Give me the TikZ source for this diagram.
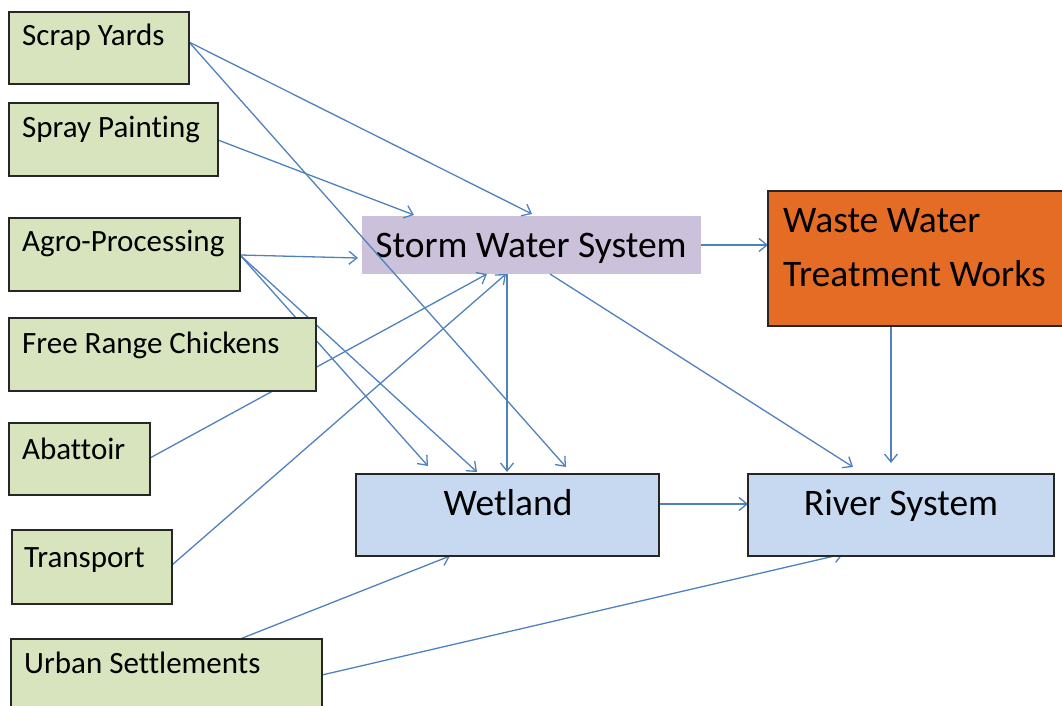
\documentclass[tikz,border=0pt]{standalone}
\usepackage{fontspec}
\setmainfont{Carlito}[Ligatures=NoCommon]
\usetikzlibrary{arrows.meta,backgrounds}

\definecolor{srcgreen}{HTML}{D7E4BD}
\definecolor{stormlilac}{HTML}{CCC1DA}
\definecolor{plantorange}{HTML}{E46C24}
\definecolor{waterblue}{HTML}{C6D9F1}
\definecolor{flowblue}{HTML}{4F81BD}
\definecolor{edgegray}{HTML}{262626}

\tikzset{
  box/.style={rectangle, draw=edgegray, line width=1.5pt, anchor=north west,
    inner sep=0pt, outer sep=0pt},
  source/.style={box, fill=srcgreen, minimum height=73pt},
  sink/.style={box, fill=waterblue, minimum height=82pt},
  srctext/.style={anchor=base west, inner sep=0pt, font=\fontsize{31}{37}\selectfont},
  bigtext/.style={anchor=base, inner sep=0pt, font=\fontsize{37.5}{45}\selectfont},
  flow/.style={draw=flowblue, line width=1.3pt,
    -{Straight Barb[length=8pt,width=13pt,line width=1.3pt]}}
}

\begin{document}
\begin{tikzpicture}[x=1pt,y=-1pt]
\useasboundingbox (0,0) rectangle (1062,706);

% pollution sources
\node[source, minimum width=180pt, minimum height=72pt] (scrap) at (9,12) {};
\node[source, minimum width=209pt] (spray) at (9,103) {};
\node[source, minimum width=231pt] (agro) at (9,218) {};
\node[source, minimum width=307pt] (chick) at (9,318) {};
\node[source, minimum width=141pt, minimum height=72pt] (abat) at (9,423) {};
\node[source, minimum width=160pt, minimum height=74pt] (trans) at (12,530) {};
\node[source, minimum width=311pt, minimum height=90pt] (urban) at (11,639) {};

\node[srctext] (scrapT) at (22,46) {Scrap Yards};
\node[srctext] (sprayT) at (22,138) {Spray Painting};
\node[srctext] (agroT) at (22,251) {Agro-Processing};
\node[srctext] (chickT) at (22,353) {Free Range Chickens};
\node[srctext] (abatT) at (22,459) {Abattoir};
\node[srctext] (transT) at (24,567) {Transport};
\node[srctext] (urbanT) at (24,673) {Urban Settlements};

% receiving systems
\node[box, fill=plantorange, minimum width=310pt, minimum height=135pt] (wwtw) at (768,191) {};
\node[sink, minimum width=303pt] (wet) at (356,474) {};
\node[sink, minimum width=306pt] (river) at (748,474) {};

\node[bigtext, anchor=base west] (wwtwA) at (783,232) {Waste Water};
\node[bigtext, anchor=base west] (wwtwB) at (783,286) {Treatment Works};
\node[bigtext] (wetT) at (508,515) {Wetland};
\node[bigtext] (riverT) at (901,515) {River System};

% storm water box and the flows lie behind the source boxes
\begin{scope}[on background layer]
\node[box, draw=none, fill=stormlilac, minimum width=339pt, minimum height=58pt] (storm) at (362,216) {};
\node[bigtext] (stormT) at (531,257) {Storm Water System};
\draw[flow] ([yshift=-30pt]scrap.north east) -- ([xshift=170pt,yshift=2pt]storm.north west);
\draw[flow] ([yshift=-30pt]scrap.north east) -- ([xshift=210pt,yshift=7pt]wet.north west);
\draw[flow] ([yshift=-37pt]spray.north east) -- ([xshift=52pt,yshift=1pt]storm.north west);
\draw[flow] ([yshift=-37pt]agro.north east) -- ([xshift=-4pt,yshift=-42pt]storm.north west);
\draw[flow] ([yshift=-37pt]agro.north east) -- ([xshift=72pt,yshift=8pt]wet.north west);
\draw[flow] ([yshift=-37pt]agro.north east) -- ([xshift=121pt,yshift=2pt]wet.north west);
\draw[flow] ([yshift=-35pt]abat.north east) -- ([xshift=125pt]storm.south west);
\draw[flow] ([yshift=-35pt]trans.north east) -- ([xshift=144pt]storm.south west);
\draw[flow] ([xshift=145pt]storm.south west) -- ([xshift=151pt,yshift=2pt]wet.north west);
\draw[flow] ([xshift=188pt]storm.south west) -- ([xshift=105pt,yshift=7pt]river.north west);
\draw[flow] ([yshift=-29pt]storm.north east) -- ([yshift=-54pt]wwtw.north west);
\draw[flow] ([xshift=123pt]wwtw.south west) -- ([xshift=143pt,yshift=11pt]river.north west);
\draw[flow] ([yshift=-30pt]wet.north east) -- ([yshift=-30pt]river.north west);
\draw[flow] ([xshift=229pt]urban.north west) -- ([xshift=94pt]wet.south west);
\draw[flow] ([yshift=-36pt]urban.north east) -- ([xshift=95pt,yshift=2pt]river.south west);
\end{scope}
\end{tikzpicture}
\end{document}
